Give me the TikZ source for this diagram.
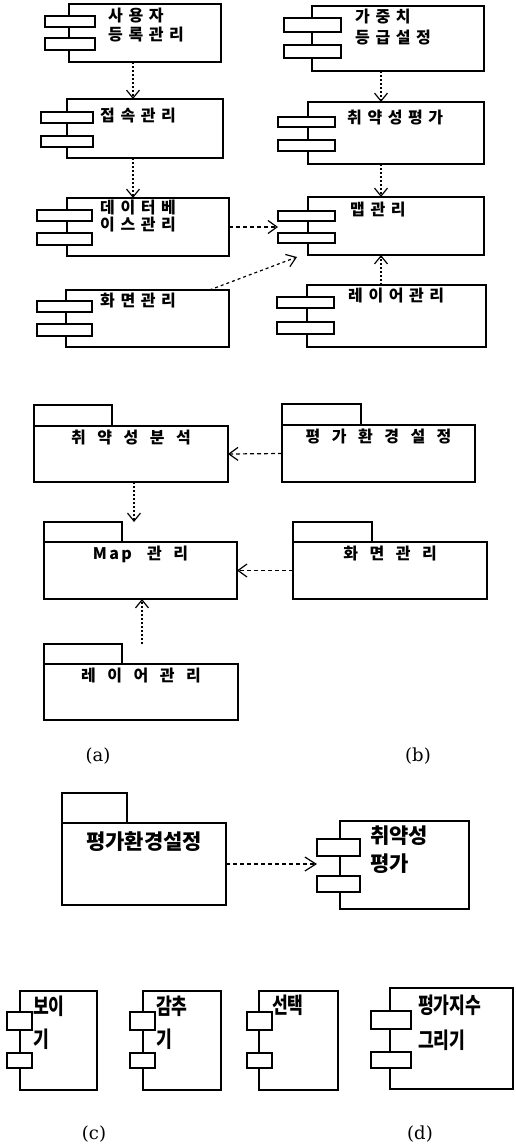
\documentclass[tikz,border=0pt]{standalone}
\usepackage{fontspec}
\newfontfamily\kra[LetterSpace=35]{Noto Sans CJK KR}
\newfontfamily\krm[LetterSpace=72]{Noto Sans CJK KR}
\newfontfamily\krb{Noto Sans CJK KR}
\newfontfamily\krc[FakeStretch=0.78]{Noto Sans CJK KR}
\newfontfamily\labfont{DejaVu Serif}
\usetikzlibrary{arrows.meta,calc}
\newcommand\mkrect[6][]{\node[rbox,minimum width={#5-#3},minimum height={#6-#4},#1] (#2) at ({(#3+#5)/2},{(#4+#6)/2}) {};}
\tikzset{
  rbox/.style={draw, line width=1.4pt, inner sep=0pt, outer sep=0pt},
  tabbox/.style={rbox, fill=white},
  ta/.style={inner sep=0pt, anchor=north west, align=left, font=\kra\bfseries\fontsize{16}{19}\selectfont},
  tm/.style={inner sep=0pt, anchor=north, font=\krm\bfseries\fontsize{16}{19}\selectfont},
  tb/.style={inner sep=0pt, align=left, font=\krb\bfseries\fontsize{21}{28}\selectfont},
  tc/.style={inner sep=0pt, anchor=north west, align=left, font=\krc\bfseries\fontsize{22}{33}\selectfont},
  lab/.style={inner sep=0pt, font=\labfont\fontsize{18}{20}\selectfont},
  dep/.style={line width=1.2pt, dash pattern=on 2pt off 2pt, -{Straight Barb[length=8pt,width=13pt]}},
  depd/.style={line width=1.2pt, dash pattern=on 4pt off 3pt, -{Straight Barb[length=9pt,width=13pt]}},
}
\begin{document}
\begin{tikzpicture}[x=1pt,y=-1pt]
\useasboundingbox (0,0) rectangle (515,1144);
% ---- (a) components
\mkrect{b1}{69}{4}{221}{62}
\mkrect[tabbox]{b1t1}{45}{16}{95}{27}
\mkrect[tabbox]{b1t2}{45}{38}{95}{50}
\node[ta] (tx1) at (108,8) {사용자\\등록관리};
\mkrect{b2}{67}{99}{223}{158}
\mkrect[tabbox]{b2t1}{41}{112}{93}{123}
\mkrect[tabbox]{b2t2}{41}{136}{93}{147}
\node[ta] (tx2) at (100,108) {접속관리};
\mkrect{b3}{67}{198}{229}{256}
\mkrect[tabbox]{b3t1}{37}{210}{92}{221}
\mkrect[tabbox]{b3t2}{37}{233}{92}{245}
\node[ta, font=\kra\bfseries\fontsize{16}{17}\selectfont] (tx3) at (100,200) {데이터베\\이스관리};
\mkrect{b4}{66}{290}{229}{347}
\mkrect[tabbox]{b4t1}{37}{301}{92}{312}
\mkrect[tabbox]{b4t2}{37}{324}{92}{336}
\node[ta] (tx4) at (100,293) {화면관리};
% ---- (b) components
\mkrect{b5}{312}{6}{484}{71}
\mkrect[tabbox]{b5t1}{284}{18}{341}{32}
\mkrect[tabbox]{b5t2}{284}{45}{341}{58}
\node[ta, font=\kra\bfseries\fontsize{16}{21}\selectfont] (tx5) at (355,9) {가중치\\등급설정};
\mkrect{b6}{308}{102}{484}{164}
\mkrect[tabbox]{b6t1}{278}{117}{335}{127}
\mkrect[tabbox]{b6t2}{278}{140}{335}{151}
\node[ta] (tx6) at (347,110) {취약성평가};
\mkrect{b7}{308}{197}{484}{255}
\mkrect[tabbox]{b7t1}{278}{211}{335}{221}
\mkrect[tabbox]{b7t2}{278}{233}{335}{243}
\node[ta] (tx7) at (350,202) {맵관리};
\mkrect{b8}{307}{285}{486}{347}
\mkrect[tabbox]{b8t1}{277}{297}{334}{308}
\mkrect[tabbox]{b8t2}{277}{322}{334}{334}
\node[ta] (tx8) at (348,288) {레이어관리};
\draw[dep] ([xshift=-12pt]b1.south) -- ([xshift=-12pt]b2.north);
\draw[dep] ([xshift=-12pt]b2.south) -- ([xshift=-15pt]b3.north);
\draw[depd] (b3.east) -- ([yshift=-6pt]b7t1.south west);
\draw[depd, dash pattern=on 3pt off 3pt] ([xshift=62pt]b4.north) -- ([xshift=-11pt,yshift=-2pt]b7.south west);
\draw[dep] ([xshift=-17pt]b5.south) -- ([xshift=-15pt]b6.north);
\draw[dep] ([xshift=-15pt]b6.south) -- ([xshift=-15pt]b7.north);
\draw[dep] ([xshift=-15.5pt]b8.north) -- ([xshift=-15pt]b7.south);
% ---- packages
\mkrect[tabbox]{p1t}{34}{405}{112}{426}
\mkrect{p1b}{34}{426}{228}{482}
\node[tm] (tp1) at ([yshift=-4pt]p1b.north) {취약성분석};
\mkrect[tabbox]{p2t}{282}{404}{361}{425}
\mkrect{p2b}{282}{425}{475}{482}
\node[tm] (tp2) at ([yshift=-4pt]p2b.north) {평가환경설정};
\mkrect[tabbox]{p3t}{44}{522}{122}{542}
\mkrect{p3b}{44}{542}{237}{599}
\node[tm] (tp3) at ([yshift=-4pt]p3b.north) {{\addfontfeature{LetterSpace=15}Map} 관리};
\mkrect[tabbox]{p4t}{293}{522}{372}{542}
\mkrect{p4b}{293}{542}{487}{599}
\node[tm] (tp4) at ([yshift=-4pt]p4b.north) {화면관리};
\mkrect[tabbox]{p5t}{44}{644}{122}{664}
\mkrect{p5b}{44}{664}{238}{720}
\node[tm] (tp5) at ([yshift=-4pt]p5b.north) {레이어관리};
\draw[depd] (p2b.west) -- (p1b.east);
\draw[dep] ([xshift=3pt]p1b.south) -- ([xshift=12pt]p3t.north east);
\draw[depd] (p4b.west) -- (p3b.east);
\draw[dep] ([xshift=20pt]p5t.north east) -- ([xshift=1.5pt]p3b.south);
\node[lab] (la) at (98,756) {(a)};
\node[lab] (lb) at (418,756) {(b)};
% ---- (c)
\mkrect[tabbox]{p6t}{62}{793}{127}{823}
\mkrect{p6b}{62}{823}{226}{905}
\node[tb, anchor=north] (tp6) at ([yshift=-8pt]p6b.north) {평가환경설정};
\mkrect{c1}{340}{821}{469}{909}
\mkrect[tabbox]{c1t1}{317}{839}{360}{856}
\mkrect[tabbox]{c1t2}{317}{876}{360}{892}
\node[tb, anchor=north west] (tc1) at (370,826) {취약성\\평가};
\draw[depd, -{Straight Barb[length=11pt,width=14pt]}] (p6b.east) -- ([yshift=-8pt]c1t1.south west);
% ---- (d)
\mkrect{d1}{20}{991}{97}{1090}
\mkrect[tabbox]{d1t1}{7}{1012}{32}{1030}
\mkrect[tabbox]{d1t2}{7}{1053}{32}{1068}
\node[tc] (td1) at (33,996) {보이\\기};
\mkrect{d2}{143}{991}{221}{1090}
\mkrect[tabbox]{d2t1}{130}{1012}{155}{1030}
\mkrect[tabbox]{d2t2}{130}{1053}{155}{1068}
\node[tc] (td2) at (156,996) {감추\\기};
\mkrect{d3}{259}{991}{338}{1090}
\mkrect[tabbox]{d3t1}{247}{1012}{272}{1030}
\mkrect[tabbox]{d3t2}{247}{1053}{272}{1068}
\node[tc] (td3) at (272,995) {선택};
\mkrect{d4}{390}{988}{513}{1089}
\mkrect[tabbox]{d4t1}{371}{1011}{411}{1029}
\mkrect[tabbox]{d4t2}{371}{1052}{411}{1068}
\node[tc, font=\krc\bfseries\fontsize{22}{35}\selectfont] (td4) at (418,995) {평가지수\\그리기};
\node[lab] (lc) at (94,1134) {(c)};
\node[lab] (ld) at (420,1134) {(d)};
\end{tikzpicture}
\end{document}
